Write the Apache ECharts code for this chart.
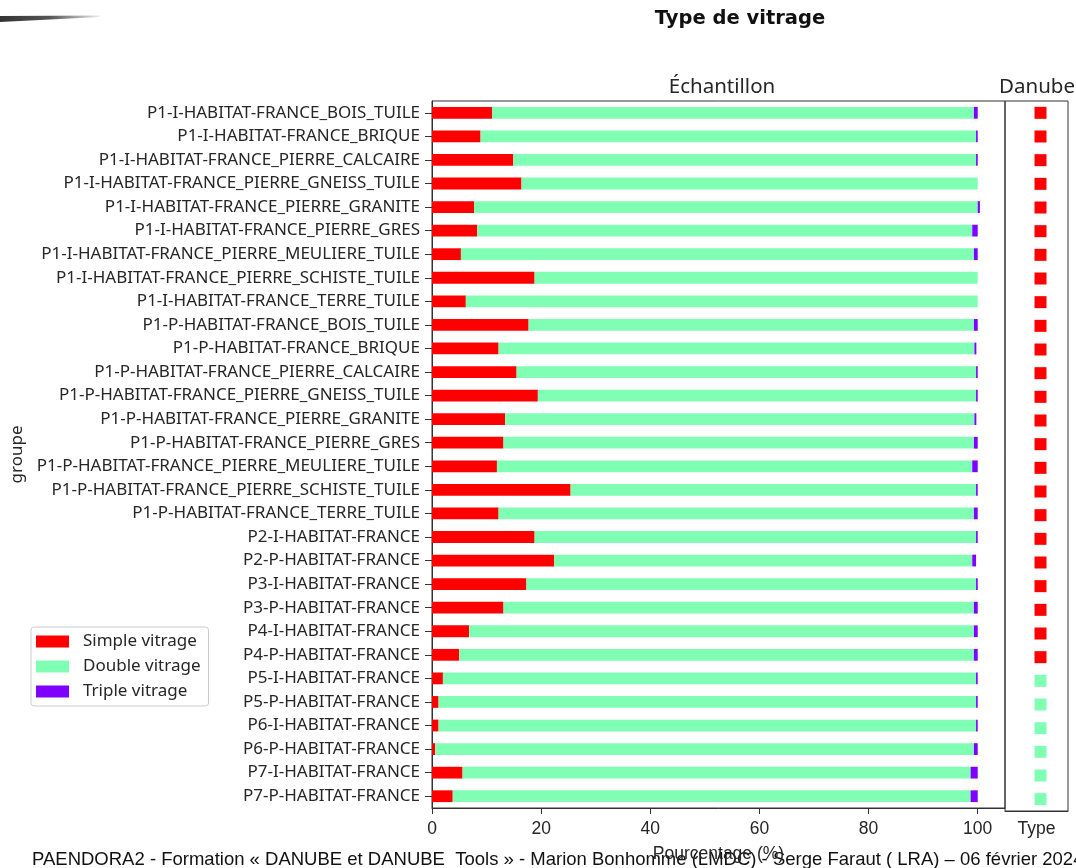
<!DOCTYPE html>
<html>
<head>
<meta charset="utf-8">
<script src="https://cdn.jsdelivr.net/npm/echarts@6/dist/echarts.min.js"></script>
<style>html,body{margin:0;padding:0;background:#fff}#c{width:1076px;height:868px}</style>
</head>
<body>
<div id="c"></div>
<script>
var categories = [
  'P1-I-HABITAT-FRANCE_BOIS_TUILE','P1-I-HABITAT-FRANCE_BRIQUE','P1-I-HABITAT-FRANCE_PIERRE_CALCAIRE',
  'P1-I-HABITAT-FRANCE_PIERRE_GNEISS_TUILE','P1-I-HABITAT-FRANCE_PIERRE_GRANITE','P1-I-HABITAT-FRANCE_PIERRE_GRES',
  'P1-I-HABITAT-FRANCE_PIERRE_MEULIERE_TUILE','P1-I-HABITAT-FRANCE_PIERRE_SCHISTE_TUILE','P1-I-HABITAT-FRANCE_TERRE_TUILE',
  'P1-P-HABITAT-FRANCE_BOIS_TUILE','P1-P-HABITAT-FRANCE_BRIQUE','P1-P-HABITAT-FRANCE_PIERRE_CALCAIRE',
  'P1-P-HABITAT-FRANCE_PIERRE_GNEISS_TUILE','P1-P-HABITAT-FRANCE_PIERRE_GRANITE','P1-P-HABITAT-FRANCE_PIERRE_GRES',
  'P1-P-HABITAT-FRANCE_PIERRE_MEULIERE_TUILE','P1-P-HABITAT-FRANCE_PIERRE_SCHISTE_TUILE','P1-P-HABITAT-FRANCE_TERRE_TUILE',
  'P2-I-HABITAT-FRANCE','P2-P-HABITAT-FRANCE','P3-I-HABITAT-FRANCE','P3-P-HABITAT-FRANCE',
  'P4-I-HABITAT-FRANCE','P4-P-HABITAT-FRANCE','P5-I-HABITAT-FRANCE','P5-P-HABITAT-FRANCE',
  'P6-I-HABITAT-FRANCE','P6-P-HABITAT-FRANCE','P7-I-HABITAT-FRANCE','P7-P-HABITAT-FRANCE'
];
var simpleVitrage = [11.0, 8.9, 14.9, 16.4, 7.7, 8.3, 5.3, 18.8, 6.2, 17.7, 12.2, 15.5, 19.4, 13.4, 13.1,
  11.9, 25.4, 12.2, 18.8, 22.4, 17.3, 13.1, 6.8, 5.0, 2.0, 1.2, 1.2, 0.6, 5.6, 3.8];
var doubleVitrage = [88.3, 90.8, 84.8, 83.6, 92.3, 90.7, 94.0, 81.2, 93.8, 81.6, 87.2, 84.2, 80.3, 86.0, 86.2,
  87.1, 74.3, 87.1, 80.9, 76.6, 82.4, 86.2, 92.5, 94.3, 97.7, 98.5, 98.5, 98.7, 93.1, 94.9];
var tripleVitrage = [0.7, 0.3, 0.3, 0, 0.4, 1.0, 0.7, 0, 0, 0.7, 0.35, 0.3, 0.3, 0.35, 0.7,
  1.0, 0.3, 0.7, 0.3, 0.7, 0.3, 0.7, 0.7, 0.7, 0.3, 0.3, 0.3, 0.7, 1.3, 1.3];
var danubeType = ['Simple vitrage','Simple vitrage','Simple vitrage','Simple vitrage','Simple vitrage','Simple vitrage',
  'Simple vitrage','Simple vitrage','Simple vitrage','Simple vitrage','Simple vitrage','Simple vitrage',
  'Simple vitrage','Simple vitrage','Simple vitrage','Simple vitrage','Simple vitrage','Simple vitrage',
  'Simple vitrage','Simple vitrage','Simple vitrage','Simple vitrage','Simple vitrage','Simple vitrage',
  'Double vitrage','Double vitrage','Double vitrage','Double vitrage','Double vitrage','Double vitrage'];
var xTicks = [0, 20, 40, 60, 80, 100];
var typeNames = ['Simple vitrage', 'Double vitrage', 'Triple vitrage'];
var typeColors = {'Simple vitrage': '#ff0000', 'Double vitrage': '#80ffb4', 'Triple vitrage': '#8000ff'};

var chart = echarts.init(document.getElementById('c'), null, {renderer: 'canvas'});
var labelFont = '"Noto Sans", "Open Sans", sans-serif';
var tickFont = '"Liberation Sans", Arial, sans-serif';
var txt = '#262626';

function barSeries(name, data) {
  return {
    name: name, type: 'bar', stack: 'v', data: data, barWidth: '50%',
    xAxisIndex: 0, yAxisIndex: 0,
    itemStyle: {color: typeColors[name]}, emphasis: {disabled: true}, animation: false
  };
}

chart.setOption({
  animation: false,
  title: [
    {text: 'Type de vitrage', left: 735, top: 4, textAlign: 'center',
     textStyle: {fontFamily: '"DejaVu Sans"', fontWeight: 'bold', fontSize: 19.5, color: '#111'}},
    {text: 'Échantillon', left: 717, top: 72, textAlign: 'center',
     textStyle: {fontFamily: labelFont, fontWeight: 'normal', fontSize: 20.5, color: txt}},
    {text: 'Danube', left: 1032, top: 72, textAlign: 'center',
     textStyle: {fontFamily: labelFont, fontWeight: 'normal', fontSize: 20.5, color: txt}}
  ],
  legend: {
    data: typeNames, orient: 'vertical', left: 31, top: 627,
    itemWidth: 33, itemHeight: 12, itemGap: 8,
    padding: [6, 8, 6, 5],
    borderColor: '#cccccc', borderWidth: 1, borderRadius: 3,
    icon: 'rect',
    textStyle: {fontFamily: labelFont, fontSize: 17, color: txt, padding: [0, 0, 0, 9]},
    selectedMode: false
  },
  grid: [
    {left: 432, top: 101, width: 573, height: 710, show: true, borderColor: '#333', borderWidth: 1, backgroundColor: 'transparent'},
    {left: 1005, top: 101, width: 63, height: 710, show: true, borderColor: '#333', borderWidth: 1, backgroundColor: 'transparent'}
  ],
  xAxis: [
    {gridIndex: 0, type: 'value', min: 0, max: 105, interval: 20,
     splitLine: {show: false},
     axisLine: {show: true, lineStyle: {color: '#333'}},
     axisTick: {show: true, customValues: xTicks, length: 6, lineStyle: {color: '#333'}},
     axisLabel: {customValues: xTicks, fontFamily: tickFont, fontSize: 17.5, color: txt, margin: 12},
     name: 'Pourcentage (%)', nameLocation: 'middle', nameGap: 37,
     nameTextStyle: {fontFamily: tickFont, fontSize: 17.5, color: txt}},
    {gridIndex: 1, type: 'category', data: ['Type'],
     axisLine: {show: true, lineStyle: {color: '#333'}},
     axisTick: {show: false},
     axisLabel: {fontFamily: tickFont, fontSize: 17.5, color: txt, margin: 9}}
  ],
  yAxis: [
    {gridIndex: 0, type: 'category', data: categories, inverse: true,
     axisLine: {show: true, lineStyle: {color: '#333'}},
     axisTick: {show: true, alignWithLabel: true, length: 7, lineStyle: {color: '#333'}},
     axisLabel: {fontFamily: labelFont, fontSize: 17, color: txt, margin: 12},
     name: 'groupe', nameLocation: 'middle', nameGap: 406, nameRotate: 90,
     nameTextStyle: {fontFamily: labelFont, fontSize: 17, color: txt}},
    {gridIndex: 1, type: 'category', data: categories, inverse: true,
     axisLine: {show: false}, axisTick: {show: false}, axisLabel: {show: false}}
  ],
  series: [
    barSeries('Simple vitrage', simpleVitrage),
    barSeries('Double vitrage', doubleVitrage),
    barSeries('Triple vitrage', tripleVitrage),
    {
      name: 'Danube', type: 'scatter', xAxisIndex: 1, yAxisIndex: 1,
      symbol: 'rect', symbolSize: 12, symbolOffset: [4, 0],
      data: danubeType.map(function (t, i) {
        return {value: ['Type', categories[i]], itemStyle: {color: typeColors[t], opacity: 1}};
      }),
      emphasis: {disabled: true}, animation: false
    }
  ],
  graphic: [
    {type: 'polygon', shape: {points: [[0, 16], [100, 15.5], [100, 17], [0, 22]]},
     style: {fill: new echarts.graphic.LinearGradient(0, 0, 1, 0, [
       {offset: 0, color: '#333'}, {offset: 0.5, color: '#555'}, {offset: 1, color: '#eee'}])}},
    {type: 'text', left: 32, top: 850,
     style: {text: 'PAENDORA2 - Formation « DANUBE et DANUBE  Tools » - Marion Bonhomme (LMDC) - Serge Faraut ( LRA) – 06 février 2024',
       fontFamily: '"Liberation Sans", Arial, sans-serif', fontSize: 18.5, fill: '#111'}}
  ]
});
</script>
</body>
</html>
